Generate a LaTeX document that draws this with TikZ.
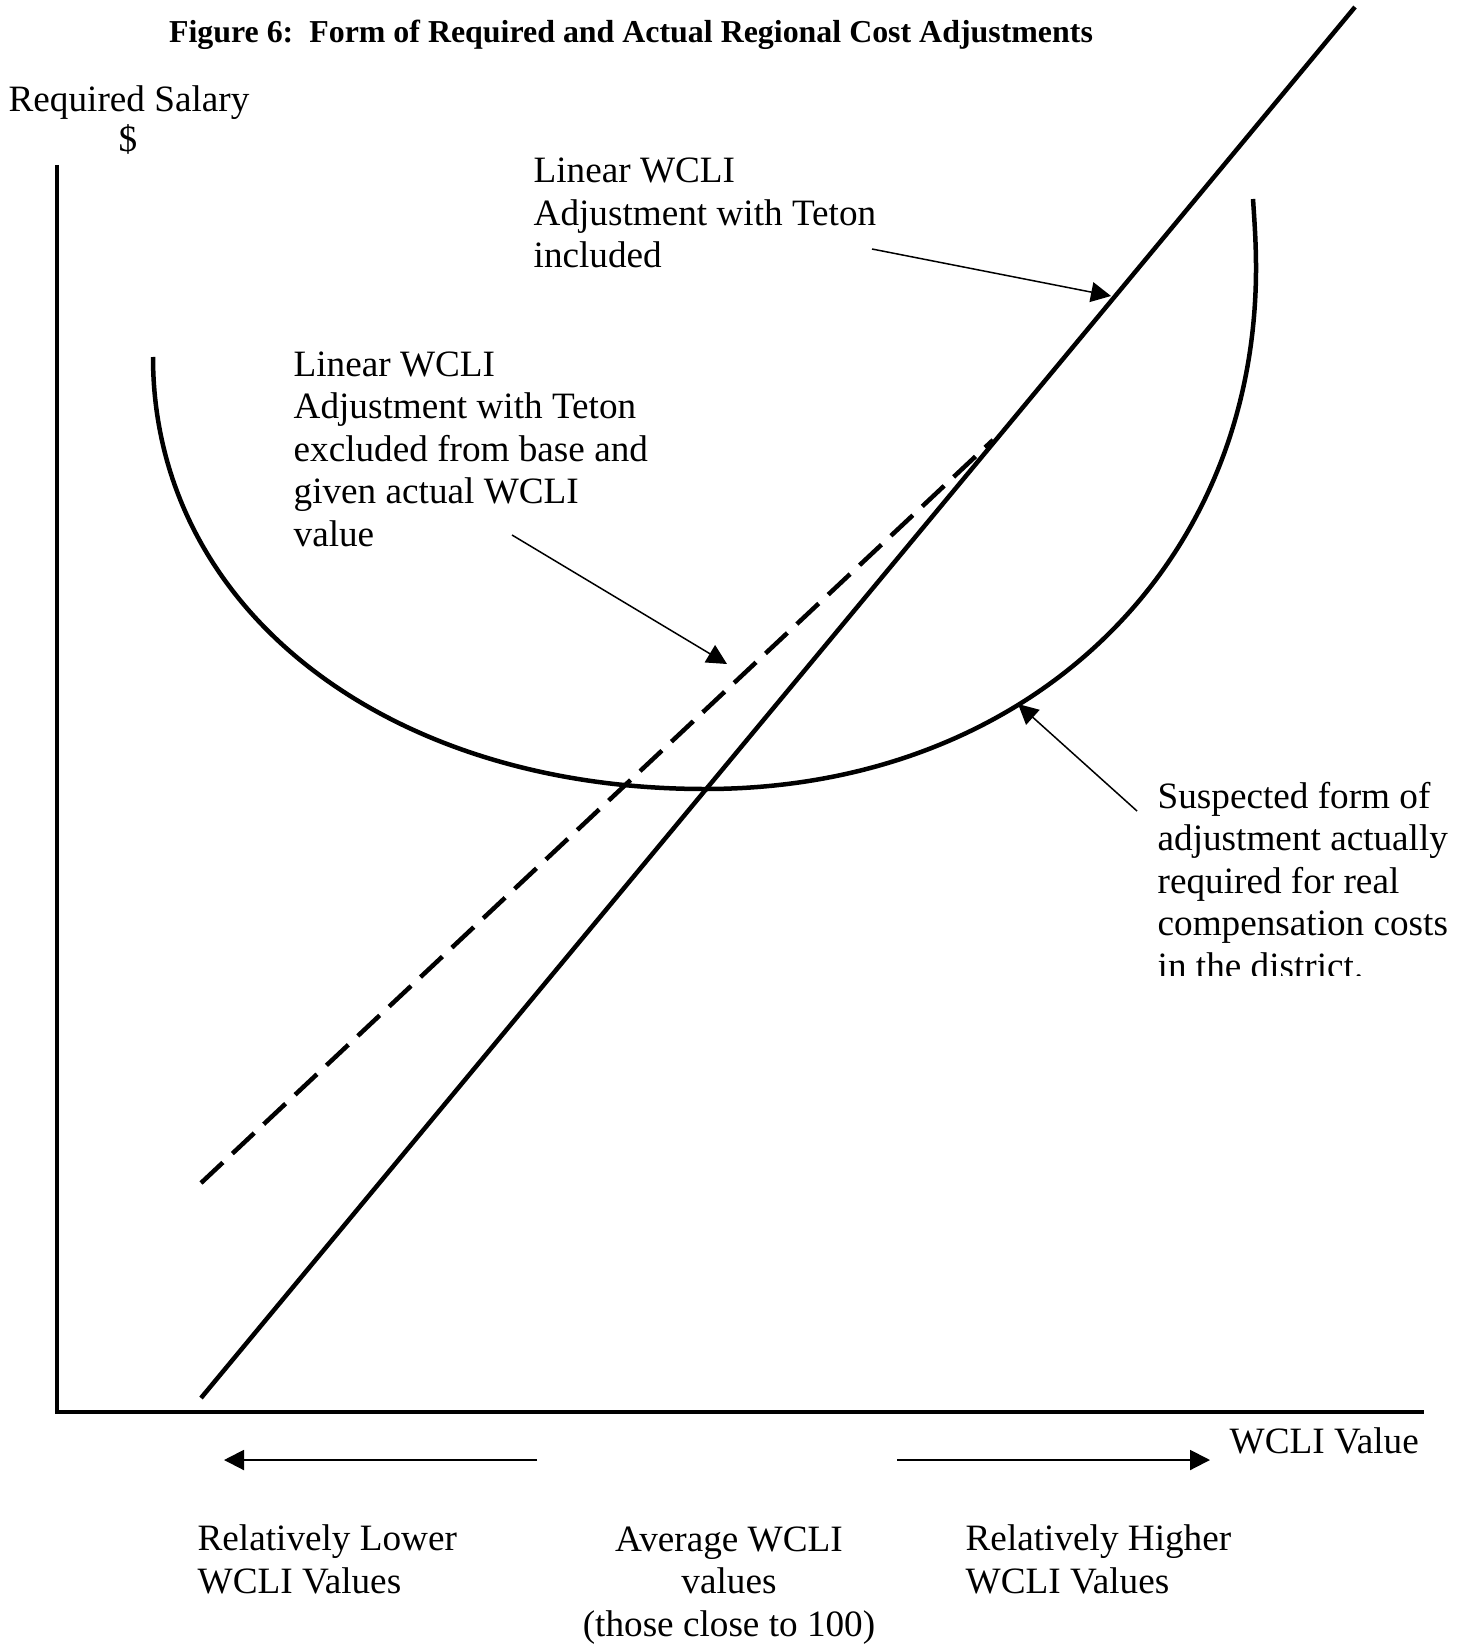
\documentclass[tikz,border=0pt]{standalone}
\usepackage{fontspec}
\setmainfont{Liberation Serif}
\usetikzlibrary{arrows.meta}
\begin{document}
\begin{tikzpicture}[x=0.3pt,y=-0.3pt,
  lbl/.style={inner sep=0pt, anchor=base west, align=left, font=\fontsize{11.16pt}{12.75pt}\selectfont},
  clbl/.style={inner sep=0pt, anchor=base, align=center, font=\fontsize{11.16pt}{12.75pt}\selectfont},
  heavy/.style={line width=1.35pt},
  pointer/.style={line width=0.45pt, -{Triangle[length=6pt,width=6pt]}},
  dirarrow/.style={line width=0.6pt, -{Triangle[length=6pt,width=6pt]}}
]
\useasboundingbox (0,0) rectangle (1467,1644);

% title
\node[inner sep=0pt, anchor=base, font=\fontsize{9.57pt}{11pt}\selectfont\bfseries] (title) at (631,43)
  {Figure 6:\ \ Form of Required and Actual Regional Cost Adjustments};

% axes
\coordinate (ytop) at (57,165);
\coordinate (origin) at (57,1412);
\coordinate (xend) at (1424,1412);
\draw[heavy] (ytop) -- (origin) -- (xend);

\node[lbl] (ylabel) at (8,112) {Required Salary};
\node[inner sep=0pt, anchor=base, font=\fontsize{11.16pt}{12.75pt}\selectfont] (dollar) at (128,152) {\$};
\node[lbl] (xlabel) at (1229,1453) {WCLI Value};

% solid linear line
\coordinate (s1) at (201,1398);
\coordinate (s2) at (1355,7);
\draw[heavy] (s1) -- (s2);

% dashed line
\coordinate (d1) at (201,1183);
\coordinate (d2) at (993,440);
\draw[heavy, dash pattern=on 9pt off 3.9pt] (d1) -- (d2);

% curve
\coordinate (c0) at (153,357);
\coordinate (cmin) at (705,789);
\coordinate (cright) at (1256,268);
\coordinate (cend) at (1253,199);
\draw[heavy] (c0) .. controls (153,608) and (385,789) .. (cmin)
  .. controls (1025,789) and (1256,570) .. (cright)
  .. controls (1256,240) and (1254,215) .. (cend);

% annotation: included
\node[lbl] (incl) at (533,268) {Linear WCLI\\Adjustment with Teton\\included};
\coordinate (inclA) at (872,249);
\coordinate (inclB) at (1111,296);
\draw[pointer] (inclA) -- (inclB);

% annotation: excluded
\node[lbl] (excl) at (293,546) {Linear WCLI\\Adjustment with Teton\\excluded from base and\\given actual WCLI\\value};
\coordinate (exclA) at (512,535);
\coordinate (exclB) at (727,664);
\draw[pointer] (exclA) -- (exclB);

% annotation: suspected
\begin{scope}
\clip (1140,770) rectangle (1467,975);
\node[lbl] (susp) at (1157,978) {Suspected form of\\adjustment actually\\required for real\\compensation costs\\in the district.};
\end{scope}
\coordinate (suspA) at (1137,811);
\coordinate (suspB) at (1018,704);
\draw[pointer] (suspA) -- (suspB);

% bottom direction arrows
\coordinate (la) at (537,1460);
\coordinate (lb) at (224,1460);
\coordinate (ra) at (897,1460);
\coordinate (rb) at (1210,1460);
\draw[dirarrow] (la) -- (lb);
\draw[dirarrow] (ra) -- (rb);

\node[lbl] (lower) at (197,1593) {Relatively Lower\\WCLI Values};
\node[clbl] (avg) at (729,1636) {Average WCLI\\values\\(those close to 100)};
\node[lbl] (higher) at (965,1593) {Relatively Higher\\WCLI Values};
\end{tikzpicture}
\end{document}
